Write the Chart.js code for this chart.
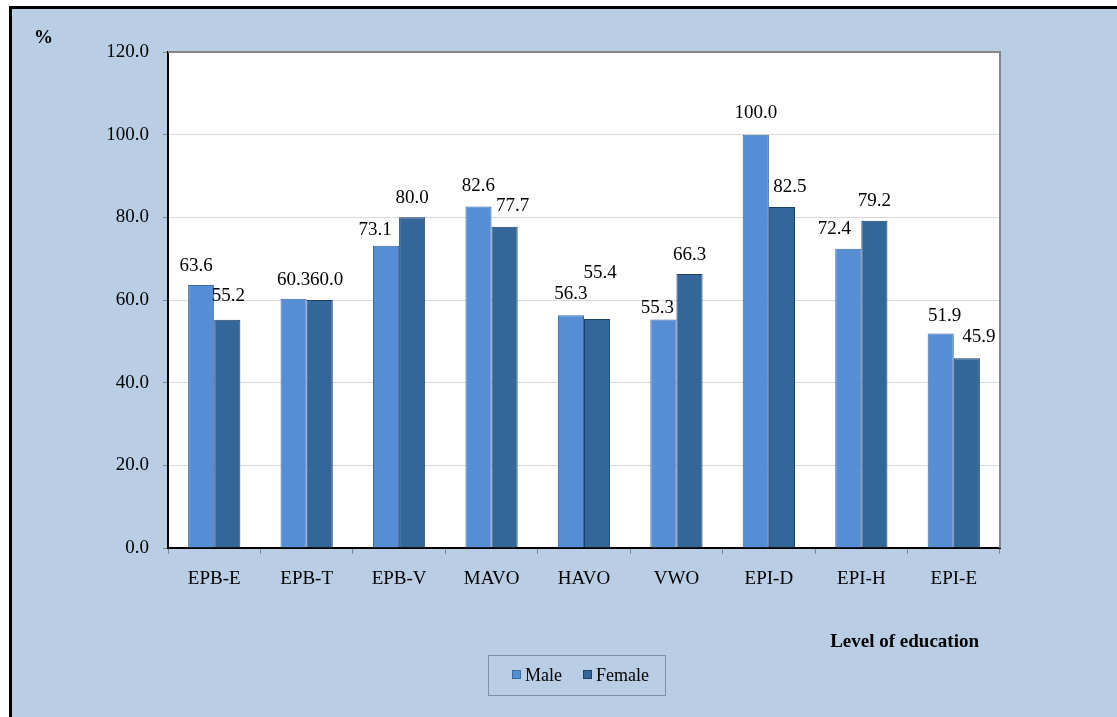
<!DOCTYPE html>
<html>
<head>
<meta charset="utf-8">
<script src="https://cdn.jsdelivr.net/npm/chart.js@4/dist/chart.umd.min.js"></script>
<style>
  html, body { margin: 0; padding: 0; background: #fff; overflow: hidden; }
  #frame {
    position: absolute; left: 9px; top: 6px; width: 1200px; height: 800px;
    background: #B9CDE5; border: 3px solid #000; box-sizing: border-box;
  }
  #wrap { position: absolute; left: 0; top: 0; width: 1117px; height: 717px; }
</style>
</head>
<body>
<div id="frame"></div>
<div id="wrap"><canvas id="chart" width="1117" height="717"></canvas></div>
<script>
const categories = ['EPB-E', 'EPB-T', 'EPB-V', 'MAVO', 'HAVO', 'VWO', 'EPI-D', 'EPI-H', 'EPI-E'];
const maleValues = [63.6, 60.3, 73.1, 82.6, 56.3, 55.3, 100.0, 72.4, 51.9];
const femaleValues = [55.2, 60.0, 80.0, 77.7, 55.4, 66.3, 82.5, 79.2, 45.9];
const yTicks = [0, 20, 40, 60, 80, 100, 120];

// hand-placed label nudges (pixels from bar top centre), as in the original
const maleNudgeX = [-5, 0, -11, 0, 0, -6, 0, -14, 4];
const maleNudgeY = [-19, -19, -16, -21, -21, -11, -22, -20, -17];
const femaleNudgeX = [1, 7, 0, 8, 3, 0, 8, 0, 12];
const femaleNudgeY = [-24, -20, -19, -21, -46, -19, -20, -20, -21];
const nudges = [[maleNudgeX, maleNudgeY], [femaleNudgeX, femaleNudgeY]];

const FONT = '"Liberation Serif", "Times New Roman", serif';

// value labels above each bar
const valueLabels = {
  id: 'valueLabels',
  afterDatasetsDraw(chart) {
    const ctx = chart.ctx;
    ctx.save();
    ctx.font = '19px ' + FONT;
    ctx.fillStyle = '#000';
    ctx.textAlign = 'center';
    ctx.textBaseline = 'middle';
    chart.data.datasets.forEach((ds, i) => {
      const meta = chart.getDatasetMeta(i);
      const [nx, ny] = nudges[i];
      meta.data.forEach((bar, j) => {
        ctx.fillText(ds.data[j].toFixed(1), bar.x + nx[j], bar.y + ny[j]);
      });
    });
    ctx.restore();
  }
};

// axis titles, plot frame and boxed legend
const decorations = {
  id: 'decorations',
  beforeDraw(chart) {
    const { ctx, chartArea: a } = chart;
    ctx.save();
    ctx.fillStyle = '#fff';
    ctx.fillRect(a.left, a.top, a.right - a.left, a.bottom - a.top);
    ctx.restore();
  },
  afterDraw(chart) {
    const { ctx, chartArea: a } = chart;
    ctx.save();
    // gray frame top/right
    ctx.strokeStyle = '#868686';
    ctx.lineWidth = 2;
    ctx.beginPath();
    ctx.moveTo(a.left, a.top);
    ctx.lineTo(a.right, a.top);
    ctx.lineTo(a.right, a.bottom);
    ctx.stroke();

    ctx.fillStyle = '#000';
    ctx.font = 'bold 19px ' + FONT;
    ctx.textBaseline = 'middle';
    ctx.textAlign = 'left';
    ctx.fillText('%', 34, 38);
    ctx.textAlign = 'right';
    ctx.fillText('Level of education', 979, 642);

    // legend box
    const bx = 488, by = 655, bw = 177, bh = 40;
    ctx.strokeStyle = '#7F8FA6';
    ctx.lineWidth = 1;
    ctx.strokeRect(bx + 0.5, by + 0.5, bw, bh);
    ctx.font = '18px ' + FONT;
    ctx.textAlign = 'left';
    const itemX = [512, 583];
    chart.data.datasets.forEach((ds, i) => {
      const x = itemX[i];
      ctx.fillStyle = ds.backgroundColor;
      ctx.fillRect(x, 670, 9, 9);
      ctx.strokeStyle = ds.borderColor;
      ctx.strokeRect(x + 0.5, 670.5, 8, 8);
      ctx.fillStyle = '#000';
      ctx.fillText(ds.label, x + 13, 676);
    });
    ctx.restore();
  }
};

new Chart(document.getElementById('chart'), {
  type: 'bar',
  data: {
    labels: categories,
    datasets: [
      {
        label: 'Male',
        data: maleValues,
        backgroundColor: '#558ED5',
        borderColor: '#3A69A6',
        borderWidth: 1,
        categoryPercentage: 0.565,
        barPercentage: 1.0,
      },
      {
        label: 'Female',
        data: femaleValues,
        backgroundColor: '#336699',
        borderColor: '#1F3F66',
        borderWidth: 1,
        categoryPercentage: 0.565,
        barPercentage: 1.0,
      },
    ],
  },
  options: {
    responsive: false,
    animation: false,
    devicePixelRatio: 1,
    layout: { padding: { left: 0, top: 52, right: 117, bottom: 0 } },
    plugins: {
      legend: { display: false },
      tooltip: { enabled: false },
    },
    scales: {
      x: {
        grid: {
          display: true,
          drawOnChartArea: false,
          drawTicks: true,
          tickLength: 6,
          color: '#868686',
          offset: true,
        },
        border: { color: '#000', width: 2 },
        ticks: {
          color: '#000',
          font: { family: FONT, size: 19 },
          padding: 14,
          maxRotation: 0,
        },
        afterFit(scale) { scale.height = 717 - 548; },
      },
      y: {
        min: 0,
        max: 120,
        afterBuildTicks(scale) { scale.ticks = yTicks.map(v => ({ value: v })); },
        grid: {
          color: '#D9D9D9',
          lineWidth: 1,
          tickLength: 5,
          tickColor: '#868686',
        },
        border: { color: '#000', width: 2 },
        ticks: {
          color: '#000',
          font: { family: FONT, size: 19 },
          padding: 14,
          callback: (v) => Number(v).toFixed(1),
        },
        afterFit(scale) { scale.width = 168; },
      },
    },
  },
  plugins: [decorations, valueLabels],
});
</script>
</body>
</html>
